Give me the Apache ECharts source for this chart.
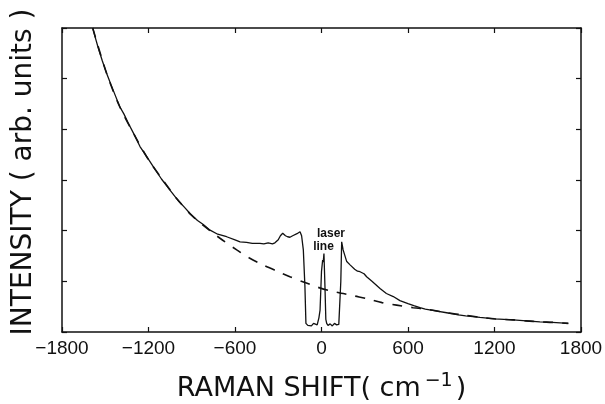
<!DOCTYPE html>
<html>
<head>
<meta charset="utf-8">
<script src="https://cdn.jsdelivr.net/npm/echarts@6/dist/echarts.min.js"></script>
<style>
html,body{margin:0;padding:0;background:#fff;}
#chart{width:605px;height:404px;}
</style>
</head>
<body>
<div id="chart"></div>
<script>
// Measured spectrum (solid line)
var shiftMeasured = [-1587,-1568,-1548,-1520,-1490,-1460,-1432,-1400,-1370,-1340,-1300,-1259,-1210,-1166,-1110,-1051,-990,-950,-912,-860,-820,-773,-720,-658,-600,-565,-520,-480,-427,-400,-370,-340,-323,-300,-285,-269,-250,-235,-219,-200,-170,-149,-138,-126,-115,-108,-95,-85,-70,-55,-43,-30,-18,-10,0,2,8,12,17,24,30,36,45,60,75,90,105,120,128,134,140,150,175,200,230,250,267,280,295,313,350,406,450,498,544,600,640,683,720,780,868,950,1000,1099,1200,1330,1420,1515,1600,1712];
var intensityMeasured = [6.00,5.80,5.60,5.35,5.10,4.88,4.68,4.45,4.30,4.12,3.90,3.66,3.45,3.26,3.02,2.80,2.58,2.46,2.34,2.20,2.12,2.01,1.93,1.88,1.82,1.78,1.77,1.75,1.75,1.74,1.76,1.74,1.76,1.82,1.90,1.95,1.90,1.88,1.87,1.90,1.94,1.98,1.90,1.62,0.90,0.17,0.13,0.16,0.12,0.17,0.15,0.14,0.28,0.43,1.20,1.25,1.42,1.38,1.55,0.90,0.25,0.17,0.13,0.16,0.12,0.17,0.14,0.15,0.18,1.00,1.78,1.62,1.39,1.32,1.24,1.20,1.19,1.21,1.15,1.09,1.00,0.86,0.76,0.70,0.62,0.56,0.52,0.48,0.45,0.42,0.38,0.34,0.32,0.29,0.26,0.24,0.22,0.20,0.19,0.17];
// Background fit (dashed line)
var shiftFit = [-1587,-1490,-1400,-1300,-1200,-1100,-1000,-900,-800,-704,-588,-500,-404,-300,-219,-100,-33,50,151,230,313,420,521,636,750,868,1000,1100,1200,1330,1420,1515,1600,1712];
var intensityFit = [6.00,5.10,4.45,3.90,3.40,3.00,2.62,2.30,2.06,1.85,1.62,1.46,1.32,1.19,1.09,0.96,0.89,0.82,0.76,0.71,0.66,0.58,0.53,0.48,0.44,0.38,0.33,0.29,0.26,0.24,0.22,0.20,0.19,0.17];
var xTicks = [-1800,-1200,-600,0,600,1200,1800];

function pairs(xs, ys){ return xs.map(function(x,i){return [x, ys[i]];}); }

var chart = echarts.init(document.getElementById('chart'), null, {renderer:'canvas'});
var FONT = '"Liberation Sans", Arial, sans-serif';
var WIDE = '"DejaVu Sans", sans-serif';
var axisCommon = {
  axisLine:{show:true, onZero:false, lineStyle:{color:'#111', width:1.5}},
  axisTick:{show:true, inside:true, length:5, lineStyle:{color:'#111', width:1.2}},
  splitLine:{show:false}
};
chart.setOption({
  animation:false,
  backgroundColor:'#fff',
  grid:{left:62, right:24, top:28, bottom:72, containLabel:false, outerBoundsMode:'none'},
  xAxis:[
    Object.assign({type:'value', min:xTicks[0], max:xTicks[xTicks.length-1], interval:600, position:'bottom',
      axisLabel:{show:true, margin:7, color:'#111', fontFamily:FONT, fontSize:19,
        formatter:function(v){ return String(v).replace('-', '\u2212'); }},
      name:'{a|RAMAN SHIFT( cm}{s|\u22121}{a|)}',
      nameLocation:'middle', nameGap:40,
      nameTextStyle:{rich:{
        a:{fontFamily:WIDE, fontSize:27, color:'#111'},
        s:{fontFamily:WIDE, fontSize:19, color:'#111', padding:[0,3,14,4]}
      }}
    }, axisCommon),
    Object.assign({type:'value', min:xTicks[0], max:xTicks[xTicks.length-1], interval:600, position:'top',
      axisLabel:{show:false}}, axisCommon)
  ],
  yAxis:[
    Object.assign({type:'value', min:0, max:6, interval:1, position:'left', axisLabel:{show:false}}, axisCommon),
    Object.assign({type:'value', min:0, max:6, interval:1, position:'right', axisLabel:{show:false}}, axisCommon)
  ],
  series:[
    {type:'line', data:pairs(shiftFit, intensityFit), showSymbol:false, smooth:0.3,
     lineStyle:{color:'#111', width:1.6, type:[10,9]}, z:2},
    {type:'line', data:pairs(shiftMeasured, intensityMeasured), showSymbol:false, smooth:false,
     lineStyle:{color:'#111', width:1.3}, z:3}
  ],
  graphic:[
    {type:'text', x:24, y:172, rotation:Math.PI/2,
     style:{text:'INTENSITY ( arb. units )', font:'28px '+WIDE, fill:'#111', align:'center', verticalAlign:'middle'}},
    {type:'text', x:331, y:234,
     style:{text:'laser', font:'bold 12px '+FONT, fill:'#111', align:'center', verticalAlign:'middle'}},
    {type:'text', x:323.5, y:247,
     style:{text:'line', font:'bold 12px '+FONT, fill:'#111', align:'center', verticalAlign:'middle'}}
  ]
});
</script>
</body>
</html>
